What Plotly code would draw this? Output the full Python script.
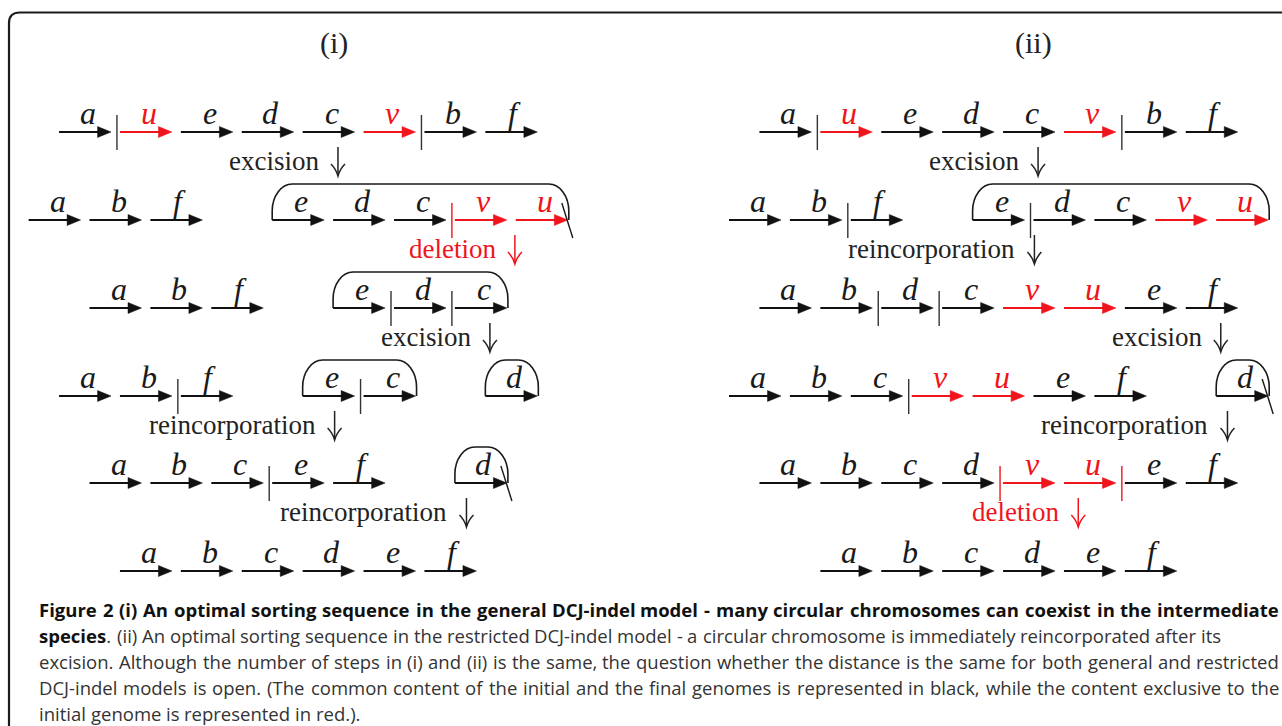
import plotly.graph_objects as go

# ---------------- data ----------------
PANEL_TITLES = ["(i)", "(ii)"]
RED_GENES = ["u", "v"]

# panel (i): genes, slots (half-gene units), separators, circular chromosomes, cuts
P1_GENES = [["a", "u", "e", "d", "c", "v", "b", "f"],
            ["a", "b", "f", "e", "d", "c", "v", "u"],
            ["a", "b", "f", "e", "d", "c"],
            ["a", "b", "f", "e", "c", "d"],
            ["a", "b", "c", "e", "f", "d"],
            ["a", "b", "c", "d", "e", "f"]]
P1_SLOTS = [[1, 3, 5, 7, 9, 11, 13, 15],
            [0, 2, 4, 8, 10, 12, 14, 16],
            [2, 4, 6, 10, 12, 14],
            [1, 3, 5, 9, 11, 15],
            [2, 4, 6, 8, 10, 14],
            [3, 5, 7, 9, 11, 13]]
P1_BARS = [[(3, "k"), (13, "k")], [(14, "r")], [(12, "k"), (14, "k")],
           [(5, "k"), (11, "k")], [(8, "k")], []]
P1_CIRCLES = [[], [(8, 16)], [(10, 14)], [(9, 11), (15, 15)], [(14, 14)], []]
P1_CUTS = [[], [16], [], [], [14], []]
P1_STEPS = ["excision", "deletion", "excision", "reincorporation", "reincorporation"]
P1_STEP_COLORS = ["k", "r", "k", "k", "k"]
P1_STEP_SLOT = [10.16, 15.97, 15.15, 10.05, 14.38]

# panel (ii)
P2_GENES = [["a", "u", "e", "d", "c", "v", "b", "f"],
            ["a", "b", "f", "e", "d", "c", "v", "u"],
            ["a", "b", "d", "c", "v", "u", "e", "f"],
            ["a", "b", "c", "v", "u", "e", "f", "d"],
            ["a", "b", "c", "d", "v", "u", "e", "f"],
            ["a", "b", "c", "d", "e", "f"]]
P2_SLOTS = [[1, 3, 5, 7, 9, 11, 13, 15],
            [0, 2, 4, 8, 10, 12, 14, 16],
            [1, 3, 5, 7, 9, 11, 13, 15],
            [0, 2, 4, 6, 8, 10, 12, 16],
            [1, 3, 5, 7, 9, 11, 13, 15],
            [3, 5, 7, 9, 11, 13]]
P2_BARS = [[(3, "k"), (13, "k")], [(4, "k"), (10, "k")], [(5, "k"), (7, "k")],
           [(6, "k")], [(9, "r"), (13, "r")], []]
P2_CIRCLES = [[], [(8, 16)], [], [(16, 16)], [], []]
P2_CUTS = [[], [], [], [16], [], []]
P2_STEPS = ["excision", "reincorporation", "excision", "reincorporation", "deletion"]
P2_STEP_COLORS = ["k", "k", "k", "k", "r"]
P2_STEP_SLOT = [10.15, 10.03, 16.15, 16.37, 11.47]

# caption lines: runs of (text, bold) and the right edge the line is justified to
CAPTION_RUNS = [
    [("Figure 2 (i) An optimal sorting sequence in the general DCJ-indel model - many "
      "circular chromosomes can coexist in the intermediate", True)],
    [("species", True),
     (". (ii) An optimal sorting sequence in the restricted DCJ-indel model - a circular "
      "chromosome is immediately reincorporated after its", False)],
    [("excision. Although the number of steps in (i) and (ii) is the same, the question "
      "whether the distance is the same for both general and restricted", False)],
    [("DCJ-indel models is open. (The common content of the initial and the final genomes "
      "is represented in black, while the content exclusive to the", False)],
    [("initial genome is represented in red.).", False)],
]
CAPTION_RIGHT = [1279, 1221, 1279, 1279, None]

# ---------------- style / geometry (window pixel coordinates) ----------------
W, H = 1282, 726
ORIGIN = [28.6, 729.0]
HALF = 30.45
GENE_LEN = 52
HEAD_LEN = 13.5
HEAD_HW = 5.5
ROW_Y = [132, 220, 308, 396, 483, 571]
TITLE_X = [333.5, 1033]
COL = {"k": "#111111", "r": "#f0141c"}
SERIF = "Liberation Serif"
CAP_FONT, CAP_SIZE = "Open Sans", 18.5
CAP_LEFT, CAP_Y0, CAP_DY = 39, 609, 26

# Open Sans advance widths (units per em = 2048), used to justify caption lines
_REG = dict(zip("abcdefghijklmnopqrstuvwxyz",
                [1139, 1255, 975, 1255, 1149, 694, 1122, 1257, 518, 518, 1075, 518, 1905,
                 1257, 1237, 1255, 1255, 836, 977, 723, 1257, 1026, 1593, 1073, 1028, 977]))
_REG.update(dict(zip("ABCDEFGHIJKLMNOPQRSTUVWXYZ",
                     [1296, 1327, 1292, 1493, 1139, 1057, 1491, 1511, 571, 547, 1255, 1073, 1849,
                      1544, 1595, 1233, 1595, 1266, 1100, 1124, 1511, 1223, 1903, 1174, 1118, 1155])))
_REG.update({" ": 532, "(": 604, ")": 604, ".": 545, ",": 500, "-": 659})
_REG.update({d: 1171 for d in "0123456789"})
_BOLD = dict(zip("abcdefghijklmnopqrstuvwxyz",
                 [1239, 1300, 1098, 1300, 1237, 821, 1141, 1346, 635, 635, 1296, 635, 2005,
                  1346, 1276, 1300, 1300, 948, 1049, 905, 1346, 1188, 1753, 1217, 1186, 1028]))
_BOLD.update({"F": 1167, "D": 1528, "C": 1286, "J": 614, "A": 1491, " ": 532, "(": 694,
              ")": 694, ".": 602, "-": 659, "2": 1171})


def char_w(ch, bold):
    if bold:
        return _BOLD.get(ch, 1250) / 2048 * CAP_SIZE * 0.99
    return _REG.get(ch, 1150) / 2048 * CAP_SIZE


fig = go.Figure()
shapes = []
ann = []


def gene_color(g):
    return COL["r"] if g in RED_GENES else "#1a1a1a"


def draw_panel(p, genes, slots, bars, circles, cuts, steps, step_cols, step_slot):
    x0 = ORIGIN[p]
    shaft = {"k": ([], []), "r": ([], [])}
    for r, y in enumerate(ROW_Y):
        for g, s in zip(genes[r], slots[r]):
            xs = x0 + s * HALF
            xe = xs + GENE_LEN
            c = "r" if g in RED_GENES else "k"
            shaft[c][0].extend([xs, xe - HEAD_LEN + 1, None])
            shaft[c][1].extend([y, y, None])
            shapes.append(dict(type="path", xref="x", yref="y",
                               path=f"M {xe-HEAD_LEN},{y-HEAD_HW} L {xe},{y} L {xe-HEAD_LEN},{y+HEAD_HW} Z",
                               fillcolor=COL[c], line=dict(color=COL[c], width=0.5)))
            ann.append(dict(x=xs + 29, y=y - 19, text=f"<i>{g}</i>", showarrow=False,
                            xanchor="center", yanchor="middle",
                            font=dict(family=SERIF, size=32, color=gene_color(g))))
        for s, c in bars[r]:
            bx = x0 + s * HALF - 3
            shapes.append(dict(type="line", xref="x", yref="y", x0=bx, x1=bx, y0=y - 17, y1=y + 18,
                               line=dict(color="#333333" if c == "k" else COL["r"], width=1.4)))
        for a, b in circles[r]:
            cx0 = x0 + a * HALF
            cx1 = x0 + b * HALF + GENE_LEN + 1
            yt = y - 36
            rx, ry = 20, 27
            k = 0.5523
            path = (f"M {cx0},{y} L {cx0},{yt+ry} "
                    f"C {cx0},{yt+ry-k*ry} {cx0+rx-k*rx},{yt} {cx0+rx},{yt} "
                    f"L {cx1-rx},{yt} "
                    f"C {cx1-rx+k*rx},{yt} {cx1},{yt+ry-k*ry} {cx1},{yt+ry} L {cx1},{y}")
            shapes.append(dict(type="path", xref="x", yref="y", path=path,
                               line=dict(color="#1a1a1a", width=1.6)))
        for s in cuts[r]:
            ex = x0 + s * HALF + GENE_LEN
            shapes.append(dict(type="line", xref="x", yref="y", x0=ex - 6, x1=ex + 5,
                               y0=y - 17, y1=y + 18, line=dict(color="#1a1a1a", width=1.4)))
    for c in ("k", "r"):
        fig.add_trace(go.Scatter(x=shaft[c][0], y=shaft[c][1], mode="lines",
                                 line=dict(color=COL[c], width=2.2), hoverinfo="skip",
                                 showlegend=False))
    for i, (txt, sc, ss) in enumerate(zip(steps, step_cols, step_slot)):
        y = ROW_Y[i]
        ax = x0 + ss * HALF
        color = COL[sc] if sc == "r" else "#222222"
        shapes.append(dict(type="line", xref="x", yref="y", x0=ax, x1=ax, y0=y + 15, y1=y + 43,
                           line=dict(color=color, width=1.5)))
        shapes.append(dict(type="path", xref="x", yref="y",
                           path=f"M {ax-7},{y+32} Q {ax-2},{y+37} {ax},{y+44} Q {ax+2},{y+37} {ax+7},{y+32}",
                           line=dict(color=color, width=1.5)))
        ann.append(dict(x=ax - 17, y=y + 29, text=txt, showarrow=False, xanchor="right",
                        yanchor="middle", font=dict(family=SERIF, size=27, color=color)))
    ann.append(dict(x=TITLE_X[p], y=43, text=PANEL_TITLES[p], showarrow=False,
                    xanchor="center", yanchor="middle",
                    font=dict(family=SERIF, size=30, color="#222222")))


draw_panel(0, P1_GENES, P1_SLOTS, P1_BARS, P1_CIRCLES, P1_CUTS, P1_STEPS, P1_STEP_COLORS, P1_STEP_SLOT)
draw_panel(1, P2_GENES, P2_SLOTS, P2_BARS, P2_CIRCLES, P2_CUTS, P2_STEPS, P2_STEP_COLORS, P2_STEP_SLOT)

# caption: justified word by word
for i, runs in enumerate(CAPTION_RUNS):
    chars = [(ch, b) for txt, b in runs for ch in txt]
    words, cur = [], []
    for ch, b in chars + [(" ", False)]:
        if ch == " ":
            if cur:
                words.append(cur)
            cur = []
        else:
            cur.append((ch, b))
    widths = [sum(char_w(ch, b) for ch, b in w) for w in words]
    right = CAPTION_RIGHT[i]
    if right is None:
        gap = char_w(" ", False)
    else:
        gap = (right - CAP_LEFT - sum(widths)) / (len(words) - 1)
    x = CAP_LEFT
    y = CAP_Y0 + i * CAP_DY
    for w, wd in zip(words, widths):
        html = ""
        for ch, b in w:
            html += f'<span style="color:#111111"><b>{ch}</b></span>' if b else ch
        html = html.replace('</b></span><span style="color:#111111"><b>', "")
        ann.append(dict(x=x - 2, y=y, text=html, showarrow=False, xanchor="left", yanchor="middle",
                        font=dict(family=CAP_FONT, size=CAP_SIZE, color="#333333")))
        x += wd + gap

# frame (rounded border, continues off the right and bottom)
shapes.append(dict(type="path", xref="x", yref="y",
                   path="M 9,760 L 9,23 Q 9,12.5 20,12.5 L 1320,12.5",
                   line=dict(color="#1a1a1a", width=2.2)))

fig.update_layout(
    width=W, height=H,
    margin=dict(l=0, r=0, t=0, b=0),
    paper_bgcolor="white", plot_bgcolor="white",
    xaxis=dict(range=[0, W], visible=False, fixedrange=True),
    yaxis=dict(range=[H, 0], visible=False, fixedrange=True),
    shapes=shapes, annotations=ann, showlegend=False,
)
# remove the default page margin so the figure fills the window exactly
fig.write_html("out.html", config={"displayModeBar": False},
               post_script="document.body.style.margin='0';document.body.style.overflow='hidden';")
